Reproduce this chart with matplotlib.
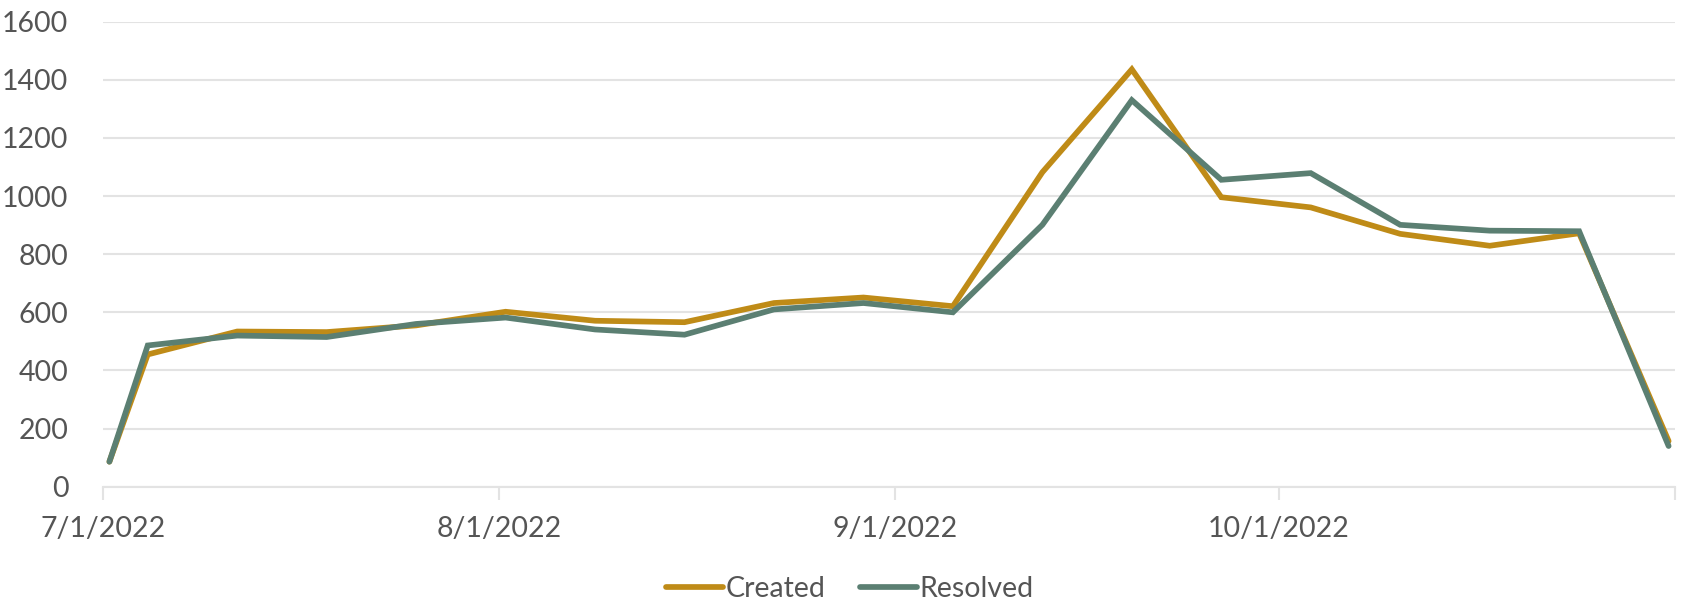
import numpy as np
import pandas as pd
import matplotlib
matplotlib.use("Agg")
import matplotlib.pyplot as plt

# weekly data (first point is 7/1, then Mondays)
dates = ["2022-07-01", "2022-07-04", "2022-07-11", "2022-07-18", "2022-07-25",
         "2022-08-01", "2022-08-08", "2022-08-15", "2022-08-22", "2022-08-29",
         "2022-09-05", "2022-09-12", "2022-09-19", "2022-09-26", "2022-10-03",
         "2022-10-10", "2022-10-17", "2022-10-24", "2022-10-31"]
created = [86, 455, 534, 532, 555, 602, 571, 566, 632, 651,
           621, 1082, 1436, 996, 961, 870, 829, 872, 157]
resolved = [86, 486, 520, 515, 560, 582, 541, 523, 610, 632,
            600, 901, 1330, 1056, 1079, 901, 881, 879, 140]
tick_dates = ["2022-07-01", "2022-08-01", "2022-09-01", "2022-10-01", "2022-11-01"]
tick_labels = ["7/1/2022", "8/1/2022", "9/1/2022", "10/1/2022", ""]

gold = "#BF8B17"
green = "#5B7F72"
text_col = "#555555"
grid_col = "#E3E3E3"

plt.rcParams['font.family'] = ['Lato', 'DejaVu Sans']

# points sit in the middle of their day, like excel date axis
x = pd.to_datetime(dates) + pd.Timedelta(hours=12)

fig = plt.figure(figsize=(16.85, 6.03), dpi=100)
ax = fig.add_axes([103/1685, 1-486.7/603, (1675-103)/1685, (486.7-21.7)/603])

ax.plot(x, created, color=gold, lw=4.1, solid_joinstyle='miter', solid_capstyle='round', label='Created')
ax.plot(x, resolved, color=green, lw=4.1, solid_joinstyle='miter', solid_capstyle='round', label='Resolved')

ax.set_ylim(0, 1600)
ax.set_yticks(range(0, 1601, 200))
ax.set_xlim(pd.Timestamp(tick_dates[0]), pd.Timestamp(tick_dates[-1]))
ax.set_xticks(pd.to_datetime(tick_dates))
ax.set_xticklabels(tick_labels)

ax.grid(axis='y', color=grid_col, lw=1.5)
ax.set_axisbelow(True)
for s in ['top', 'right', 'left']:
    ax.spines[s].set_visible(False)
ax.spines['bottom'].set_color(grid_col)
ax.spines['bottom'].set_linewidth(1.5)
ax.tick_params(axis='y', length=0, pad=25, labelsize=20.5, labelcolor=text_col)
ax.tick_params(axis='x', length=9, width=1.5, color=grid_col, pad=12, labelsize=20.5, labelcolor=text_col)

leg = fig.legend(loc='center', bbox_to_anchor=(850/1685, 1-589/603), ncol=2, frameon=False,
                 fontsize=20.5, handlelength=2.0, handletextpad=0.1, columnspacing=1.2)
for t in leg.get_texts():
    t.set_color(text_col)

plt.savefig("out.png", dpi=100)
